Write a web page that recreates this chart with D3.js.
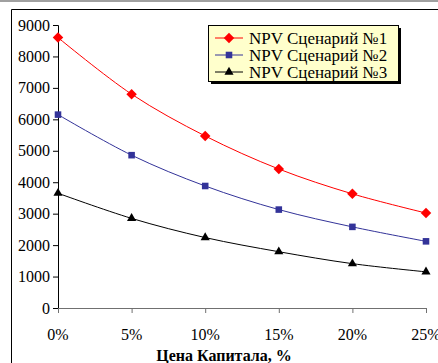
<!DOCTYPE html>
<html>
<head>
<script src="https://cdn.jsdelivr.net/npm/d3@7"></script>
</head>
<body style="margin:0">
<svg id="chart" width="438" height="363"></svg>
<script>
const rates = ["0%", "5%", "10%", "15%", "20%", "25%"];
const scenario1 = [8600, 6800, 5470, 4420, 3630, 3020];
const scenario2 = [6150, 4860, 3880, 3130, 2580, 2120];
const scenario3 = [3650, 2850, 2240, 1790, 1410, 1150];
const seriesNames = ["NPV Сценарий №1", "NPV Сценарий №2", "NPV Сценарий №3"];
const yTicks = [0, 1000, 2000, 3000, 4000, 5000, 6000, 7000, 8000, 9000];

const svg = d3.select("#chart");
const font = "Liberation Serif";
const width = 438, height = 363;

// grey strip at top + outer frame
svg.append("rect").attr("x", 0).attr("y", 0).attr("width", width).attr("height", 2).attr("fill", "#a0a0a0");
svg.append("path")
    .attr("d", `M11.5,${height}V9.5H${width}`)
    .attr("fill", "none").attr("stroke", "black");

const x = d3.scalePoint().domain(rates).range([58, 426]);
const y = d3.scaleLinear().domain([0, 9000]).range([308, 25]);

// axes drawn without labels, labels added as plain text on the svg root
const yAxis = svg.append("g")
    .attr("transform", "translate(58,0)")
    .call(d3.axisLeft(y).tickValues(yTicks).tickFormat("").tickSize(5));
yAxis.select(".domain").attr("stroke", "black");

const xAxis = svg.append("g")
    .attr("transform", `translate(0,${y(0)})`)
    .call(d3.axisBottom(x).tickFormat("").tickSize(5).tickSizeOuter(0));
xAxis.select(".domain").attr("stroke", "#707070");
xAxis.selectAll("line").attr("stroke", "#707070");

svg.selectAll(".ylab")
    .data(yTicks)
    .join("text")
    .attr("class", "ylab")
    .attr("x", 50)
    .attr("y", d => y(d))
    .attr("dy", "0.35em")
    .attr("text-anchor", "end")
    .attr("font-family", font)
    .attr("font-size", 16)
    .text(d => d);

svg.selectAll(".xlab")
    .data(rates)
    .join("text")
    .attr("class", "xlab")
    .attr("x", d => x(d))
    .attr("y", 340)
    .attr("text-anchor", "middle")
    .attr("font-family", font)
    .attr("font-size", 16)
    .text(d => d);

svg.append("text")
    .attr("x", 224)
    .attr("y", 361)
    .attr("text-anchor", "middle")
    .attr("font-family", font)
    .attr("font-size", 16)
    .attr("font-weight", "bold")
    .text("Цена Капитала, %");

const series = [
    {name: seriesNames[0], values: scenario1, color: "#ff0000", symbol: d3.symbolDiamond2, size: 70},
    {name: seriesNames[1], values: scenario2, color: "#333399", symbol: d3.symbolSquare2, size: 55},
    {name: seriesNames[2], values: scenario3, color: "#000000", symbol: d3.symbolTriangle2, size: 60}
];

const line = d3.line()
    .x((d, i) => x(rates[i]))
    .y(d => y(d))
    .curve(d3.curveCatmullRom);

series.forEach(s => {
    svg.append("path")
        .attr("d", line(s.values))
        .attr("fill", "none")
        .attr("stroke", s.color);

    svg.selectAll(null)
        .data(s.values)
        .join("path")
        .attr("transform", (d, i) => `translate(${x(rates[i])},${y(d)})`)
        .attr("d", d3.symbol().type(s.symbol).size(s.size))
        .attr("fill", s.color);
});

// legend box with shadow
svg.append("rect").attr("x", 211).attr("y", 28).attr("width", 190).attr("height", 56).attr("fill", "black");
svg.append("rect").attr("x", 208.5).attr("y", 25.5).attr("width", 190).attr("height", 56)
    .attr("fill", "#ffffcc").attr("stroke", "black");

series.forEach((s, i) => {
    const cy = 38 + i * 17;
    svg.append("line")
        .attr("x1", 215).attr("x2", 243).attr("y1", cy).attr("y2", cy)
        .attr("stroke", s.color);
    svg.append("path")
        .attr("transform", `translate(229,${cy})`)
        .attr("d", d3.symbol().type(s.symbol).size(s.size)())
        .attr("fill", s.color);
    svg.append("text")
        .attr("x", 249)
        .attr("y", cy)
        .attr("dy", "0.35em")
        .attr("font-family", font)
        .attr("font-size", 17)
        .text(s.name);
});
</script>
</body>
</html>
